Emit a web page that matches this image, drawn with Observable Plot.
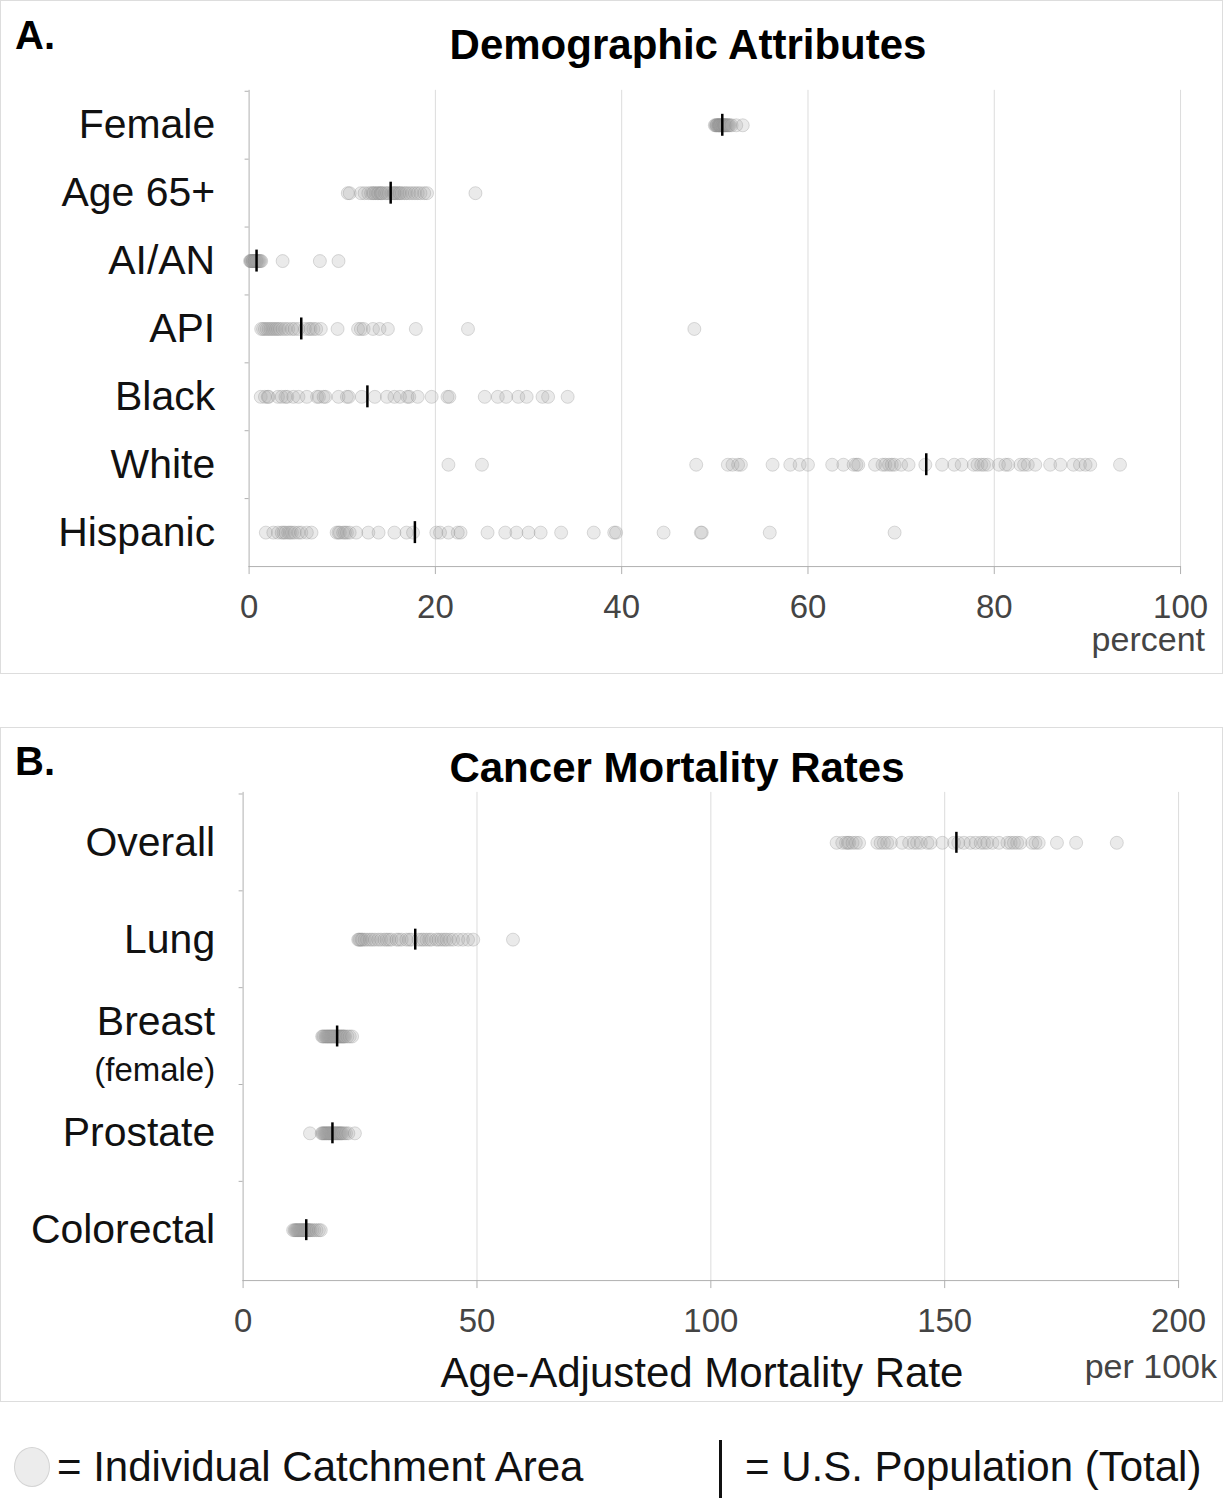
<!DOCTYPE html>
<html>
<head>
<meta charset="utf-8">
<script src="https://cdn.jsdelivr.net/npm/d3@7"></script>
<script src="https://cdn.jsdelivr.net/npm/@observablehq/plot@0.6"></script>
<style>
  html, body { margin: 0; padding: 0; background: #fff; }
  body { width: 1223px; height: 1500px; position: relative; font-family: "Liberation Sans", Arial, sans-serif; overflow: hidden; }
  .panel { position: absolute; left: 0; width: 1223px; box-sizing: border-box; border: 1px solid #ddd; }
  .panel svg { position: absolute; left: -1px; top: -1px; }
  .txt { position: absolute; white-space: nowrap; line-height: 1; }
</style>
</head>
<body>
<div id="panelA" class="panel" style="top:0;height:674px;"></div>
<div id="panelB" class="panel" style="top:727px;height:675px;"></div>

<div class="txt" style="left:15px;top:15px;font-size:40px;font-weight:bold;color:#000;">A.</div>
<div class="txt" style="left:0;width:1376px;top:24px;text-align:center;font-size:42px;font-weight:bold;color:#000;">Demographic Attributes</div>
<div class="txt" style="right:18px;top:629px;line-height:20px;font-size:34px;color:#444;">percent</div>

<div class="txt" style="left:15px;top:741px;font-size:40px;font-weight:bold;color:#000;">B.</div>
<div class="txt" style="left:0;width:1354px;top:747px;text-align:center;font-size:42px;font-weight:bold;color:#000;">Cancer Mortality Rates</div>
<div class="txt" style="left:0;width:1404px;top:1352px;text-align:center;font-size:42px;color:#111;">Age-Adjusted Mortality Rate</div>
<div class="txt" style="right:6px;top:1349px;font-size:34px;color:#444;">per 100k</div>

<div style="position:absolute;left:14px;top:1447px;width:36px;height:40px;box-sizing:border-box;border-radius:50%;background:#ececec;border:1px solid #d4d4d4;"></div>
<div class="txt" style="left:57px;top:1446px;font-size:42px;color:#111;">= Individual Catchment Area</div>
<div style="position:absolute;left:719px;top:1440px;width:3px;height:58px;background:#111;"></div>
<div class="txt" style="left:745px;top:1446px;font-size:42px;color:#111;">= U.S. Population (Total)</div>

<script>
// ---------- Panel A: Demographic Attributes (percent) ----------
const categoriesA = ["Female", "Age 65+", "AI/AN", "API", "Black", "White", "Hispanic"];
const femaleVals = [50.0, 50.1, 50.2, 50.2, 50.3, 50.4, 50.4, 50.5, 50.5, 50.6, 50.6, 50.7, 50.8, 50.8, 50.9, 51.0, 51.0, 51.1, 51.1, 51.2, 51.3, 51.4, 51.5, 51.6, 51.8, 52.3, 53.0];
const age65Vals = [10.6, 10.8, 12.0, 12.4, 12.8, 13.1, 13.3, 13.4, 13.6, 13.8, 13.9, 14.1, 14.2, 14.3, 14.6, 14.8, 15.0, 15.3, 15.5, 15.6, 15.7, 15.9, 16.1, 16.2, 16.4, 16.7, 16.9, 17.2, 17.5, 17.8, 18.1, 18.4, 18.8, 19.1, 24.3];
const aianVals = [0.1, 0.2, 0.2, 0.3, 0.4, 0.4, 0.5, 0.6, 0.6, 0.7, 0.8, 0.8, 0.9, 1.0, 1.1, 1.2, 1.3, 3.6, 7.6, 9.6];
const apiVals = [1.3, 1.5, 1.7, 1.9, 2.1, 2.3, 2.5, 2.7, 2.9, 3.1, 3.3, 3.6, 3.9, 4.2, 4.6, 4.9, 5.3, 6.0, 6.4, 6.6, 6.9, 7.2, 7.7, 9.5, 11.7, 12.0, 12.3, 13.3, 14.0, 14.9, 17.9, 23.5, 47.8];
const blackVals = [1.25, 1.7, 2.0, 2.1, 3.1, 3.5, 3.9, 4.1, 4.75, 5.3, 6.2, 7.3, 7.5, 8.0, 8.2, 9.6, 10.5, 10.7, 12.1, 13.5, 14.8, 15.6, 16.2, 17.0, 17.2, 18.1, 19.6, 21.3, 21.5, 25.3, 26.7, 27.6, 28.9, 29.8, 31.5, 32.1, 34.2];
const whiteVals = [21.4, 25.0, 48.0, 51.4, 51.9, 52.5, 52.8, 56.2, 58.1, 59.1, 60.0, 62.6, 63.8, 64.9, 65.2, 65.4, 67.2, 68.0, 68.3, 68.7, 69.0, 69.3, 70.0, 70.8, 72.6, 74.4, 75.7, 76.5, 77.8, 78.2, 78.6, 78.9, 79.3, 80.5, 81.2, 81.5, 82.8, 83.2, 83.6, 84.4, 86.0, 87.1, 88.5, 89.2, 89.8, 90.3, 93.5];
const hispanicVals = [1.8, 2.6, 3.1, 3.5, 3.7, 3.9, 4.2, 4.4, 4.6, 4.9, 5.3, 5.6, 6.2, 6.7, 9.4, 9.6, 9.75, 10.1, 10.3, 10.5, 10.8, 11.5, 12.8, 13.9, 15.6, 16.9, 17.6, 20.1, 20.5, 21.4, 22.4, 22.7, 25.6, 27.5, 28.7, 30.0, 31.3, 33.5, 37.0, 39.2, 39.4, 44.5, 48.5, 48.6, 55.9, 69.3];
const usTotalA = [50.8, 15.2, 0.8, 5.6, 12.7, 72.7, 17.8];
const ticksA = [0, 20, 40, 60, 80, 100];

// ---------- Panel B: Cancer Mortality Rates (per 100k) ----------
const categoriesB = ["Overall", "Lung", "Breast", "Prostate", "Colorectal"];
const overallVals = [126.9, 128.1, 128.9, 129.3, 129.6, 130.3, 131.0, 131.7, 135.6, 136.3, 137.0, 137.7, 138.5, 140.9, 142.4, 143.4, 144.1, 144.9, 146.3, 147.0, 149.5, 152.0, 152.9, 154.1, 155.5, 156.6, 157.7, 158.4, 159.1, 160.2, 161.6, 163.4, 164.1, 164.8, 165.5, 166.2, 168.7, 169.4, 170.1, 174.0, 178.1, 186.8];
const lungVals = [24.6, 24.8, 25.0, 25.3, 25.5, 26.0, 26.5, 27.1, 27.6, 28.2, 28.9, 29.5, 30.2, 30.7, 31.2, 31.7, 32.8, 33.3, 33.9, 34.9, 35.5, 36.0, 37.5, 38.1, 38.6, 39.2, 39.8, 40.3, 41.3, 41.8, 42.4, 43.0, 43.5, 44.2, 44.9, 46.0, 47.0, 48.1, 49.2, 57.7];
const breastVals = [16.9, 17.1, 17.3, 17.6, 17.8, 18.0, 18.2, 18.4, 18.6, 18.8, 19.0, 19.2, 19.4, 19.6, 19.8, 20.0, 20.2, 20.4, 20.6, 20.8, 21.0, 21.2, 21.4, 21.6, 21.8, 22.3, 22.8, 23.3];
const prostateVals = [14.3, 16.8, 17.0, 17.2, 17.4, 17.6, 17.8, 18.0, 18.2, 18.4, 18.6, 18.8, 19.0, 19.2, 19.4, 19.6, 19.8, 20.0, 20.2, 20.4, 20.6, 20.8, 21.0, 21.2, 21.6, 22.0, 22.5, 23.9];
const colorectalVals = [10.7, 11.0, 11.2, 11.4, 11.6, 11.8, 12.0, 12.2, 12.4, 12.6, 12.8, 13.0, 13.2, 13.4, 13.6, 13.8, 14.0, 14.2, 14.4, 14.8, 15.2, 15.7, 16.2, 16.6];
const usTotalB = [152.5, 36.8, 20.1, 19.1, 13.5];
const ticksB = [0, 50, 100, 150, 200];

function buildPanel({categories, series, usTotal, ticks, width, height, marginTop, marginBottom, marginLeft, marginRight, tickPadY, markerInset}) {
  const dots = categories.flatMap((c, i) => series[i].map(v => ({cat: c, v})));
  const us = categories.map((c, i) => ({cat: c, v: usTotal[i]}));
  const step = (height - marginTop - marginBottom) / categories.length;
  return Plot.plot({
    width, height, marginTop, marginBottom, marginLeft, marginRight,
    style: {fontFamily: "'Liberation Sans', Arial, sans-serif", background: "transparent", overflow: "visible"},
    x: {domain: [ticks[0], ticks[ticks.length - 1]]},
    y: {domain: categories, padding: 0},
    marks: [
      Plot.gridX({ticks: ticks.slice(1), stroke: "#dcdcdc", strokeOpacity: 1}),
      Plot.frame({anchor: "left", stroke: "#b0b0b0"}),
      Plot.frame({anchor: "bottom", stroke: "#b0b0b0"}),
      Plot.axisX({ticks, tickSize: 8, tickPadding: 20, fontSize: 33, fill: "#444", stroke: "#b0b0b0", label: null}),
      Plot.axisY({tickSize: 0, tickPadding: tickPadY, fontSize: 41, fill: "#111", label: null,
        tickFormat: d => d === "Breast" ? "Breast\n(female)" : d}),
      Plot.axisY({tickSize: 4, tickFormat: () => "", label: null, dy: -step / 2, stroke: "#b0b0b0"}),
      Plot.dot(dots, {x: "v", y: "cat", r: 6.5, fill: "#a8a8a8", fillOpacity: 0.24, stroke: "#8a8a8a", strokeOpacity: 0.3, strokeWidth: 1}),
      Plot.tickX(us, {x: "v", y: "cat", stroke: "#000", strokeWidth: 2.5, insetTop: markerInset, insetBottom: markerInset})
    ]
  });
}

const plotA = buildPanel({
  categories: categoriesA,
  series: [femaleVals, age65Vals, aianVals, apiVals, blackVals, whiteVals, hispanicVals],
  usTotal: usTotalA, ticks: ticksA,
  width: 1223, height: 674, marginTop: 90, marginBottom: 107, marginLeft: 249, marginRight: 41,
  tickPadY: 34, markerInset: 23
});
document.getElementById("panelA").appendChild(plotA);

const plotB = buildPanel({
  categories: categoriesB,
  series: [overallVals, lungVals, breastVals, prostateVals, colorectalVals],
  usTotal: usTotalB, ticks: ticksB,
  width: 1223, height: 675, marginTop: 65, marginBottom: 121, marginLeft: 243, marginRight: 43,
  tickPadY: 28, markerInset: 38
});
document.getElementById("panelB").appendChild(plotB);

// smaller, more spaced second line for the "Breast (female)" label
plotB.querySelectorAll("tspan").forEach(t => {
  if (t.textContent === "(female)") {
    t.setAttribute("font-size", "33");
    t.setAttribute("dy", "1.4em");
    const txt = t.parentNode;
    txt.setAttribute("transform", (txt.getAttribute("transform") || "") + " translate(0,6)");
  }
});
</script>
</body>
</html>
